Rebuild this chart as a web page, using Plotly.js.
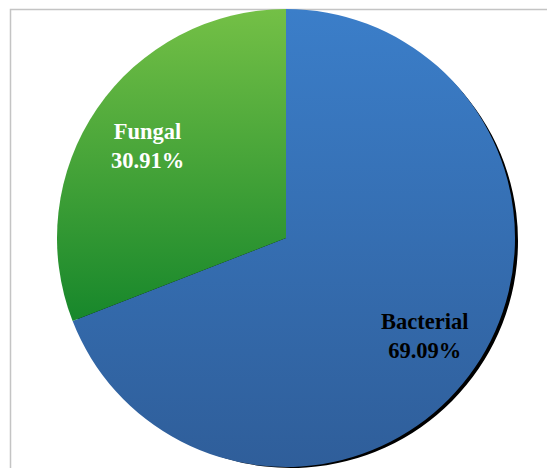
<!DOCTYPE html>
<html>
<head>
<meta charset="utf-8">
<script src="https://cdn.plot.ly/plotly-3.0.1.min.js"></script>
<style>
  html, body { margin: 0; padding: 0; background: #ffffff; }
  #chart { width: 547px; height: 468px; }
</style>
</head>
<body>
<div id="chart"></div>
<script>
// Share of isolates by organism type (slices run clockwise from 12 o'clock)
const categories = ['Bacterial', 'Fungal'];
const shares = [69.09, 30.91];
const labelColors = ['#000000', '#ffffff'];
// top / bottom colours of each slice's vertical gradient
const gradientTop = ['#3b7ec9', '#74c046'];
const gradientBottom = ['#2f5e9a', '#17872b'];
const baseColors = ['#3570b5', '#46a33a'];

const W = 547, H = 468;
// pie placement in pixels
const cx = 286, cy = 238, R = 229;
const shadowDx = 5, shadowDy = 5;

function domainFor(dx, dy) {
  return {
    x: [(cx - R + dx) / W, (cx + R + dx) / W],
    y: [1 - (cy + R + dy) / H, 1 - (cy - R + dy) / H]
  };
}

const pieBase = {
  type: 'pie',
  values: shares,
  labels: categories,
  sort: false,
  direction: 'clockwise',
  rotation: 0,
  textinfo: 'none',
  hoverinfo: 'skip',
  showlegend: false
};

const shadow = Object.assign({}, pieBase, {
  marker: { colors: categories.map(() => '#000000'), line: { width: 0 } },
  domain: domainFor(shadowDx, shadowDy)
});

const main = Object.assign({}, pieBase, {
  marker: { colors: baseColors, line: { width: 0 } },
  domain: domainFor(0, 0)
});

// label each slice along its bisector
const total = shares.reduce((a, b) => a + b, 0);
const annotations = [];
let start = 0;
shares.forEach((v, i) => {
  const sweep = v / total * 2 * Math.PI;
  const mid = start + sweep / 2;
  const rr = R * 0.735;
  const px = cx + rr * Math.sin(mid);
  const py = cy - rr * Math.cos(mid);
  annotations.push({
    xref: 'paper', yref: 'paper',
    x: px / W, y: 1 - py / H,
    yshift: -3,
    xanchor: 'center', yanchor: 'middle',
    showarrow: false,
    text: '<b>' + categories[i] + '<br>' + v.toFixed(2) + '%</b>',
    font: { family: 'Liberation Serif', size: 22.5, color: labelColors[i] }
  });
  start += sweep;
});

const layout = {
  width: W, height: H,
  margin: { l: 0, r: 0, t: 0, b: 0 },
  paper_bgcolor: '#ffffff',
  plot_bgcolor: '#ffffff',
  annotations: annotations,
  shapes: [{
    type: 'rect', xref: 'paper', yref: 'paper',
    x0: 10.5 / W, x1: 1.2, y0: -0.2, y1: 1 - 9.5 / H,
    line: { color: '#c4c4c4', width: 1.5 },
    layer: 'below'
  }]
};

Plotly.newPlot('chart', [shadow, main], layout, { staticPlot: true, displayModeBar: false }).then(gd => {
  const svg = gd.querySelector('svg.main-svg');
  const ns = 'http://www.w3.org/2000/svg';
  let defs = svg.querySelector('defs');
  if (!defs) { defs = document.createElementNS(ns, 'defs'); svg.insertBefore(defs, svg.firstChild); }

  categories.forEach((c, i) => {
    const g = document.createElementNS(ns, 'linearGradient');
    g.setAttribute('id', 'slice-grad-' + i);
    g.setAttribute('x1', '0'); g.setAttribute('y1', '0');
    g.setAttribute('x2', '0'); g.setAttribute('y2', '1');
    [[0, gradientTop[i]], [1, gradientBottom[i]]].forEach(([o, col]) => {
      const s = document.createElementNS(ns, 'stop');
      s.setAttribute('offset', o);
      s.setAttribute('stop-color', col);
      g.appendChild(s);
    });
    defs.appendChild(g);
  });

  const f = document.createElementNS(ns, 'filter');
  f.setAttribute('id', 'shadow-soft');
  const b = document.createElementNS(ns, 'feGaussianBlur');
  b.setAttribute('stdDeviation', '0.35');
  f.appendChild(b);
  defs.appendChild(f);

  const traces = gd.querySelectorAll('.pielayer .trace');
  if (traces.length === 2) {
    traces[0].setAttribute('filter', 'url(#shadow-soft)');
    traces[1].querySelectorAll('.slice').forEach((sl, k) => {
      const d = sl.__data__;
      const idx = (d && typeof d.i === 'number') ? d.i : k;
      const p = sl.querySelector('path.surface');
      if (p) p.style.fill = 'url(#slice-grad-' + idx + ')';
    });
  }
});
</script>
</body>
</html>
